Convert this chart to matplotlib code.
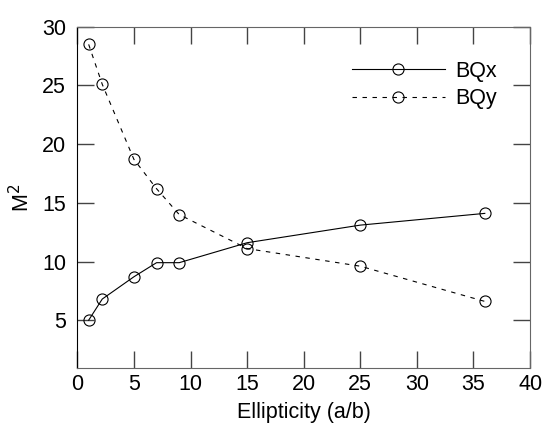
import matplotlib.pyplot as plt

plt.rcParams['font.family'] = ['Liberation Sans', 'DejaVu Sans']

# Dados
ellipticity = [1, 2.2, 5, 7, 9, 15, 25, 36]
bqx = [5.0, 6.8, 8.7, 9.9, 9.9, 11.6, 13.1, 14.1]
bqy = [28.5, 25.1, 18.7, 16.2, 14.0, 11.1, 9.6, 6.6]

fig = plt.figure(figsize=(5.42, 4.25), dpi=100)
ax = fig.add_axes([0.1427, 0.1334, 0.8353, 0.8036])

ax.plot(ellipticity, bqx, color='black', lw=0.8, marker='o', ms=8,
        mfc='none', mec='black', mew=0.8, label='BQx')
ax.plot(ellipticity, bqy, color='black', lw=0.8, dashes=(4, 5), marker='o', ms=8,
        mfc='none', mec='black', mew=0.8, label='BQy')

ax.set_xlim(0, 40)
ax.set_ylim(0.9, 30)
ax.set_xticks(range(0, 41, 5))
ax.set_yticks(range(5, 31, 5))
ax.tick_params(direction='in', length=12, width=1, colors='#444444', labelcolor='black',
               labelsize=15.5, top=True, right=True)
ax.tick_params(axis='y', pad=8)
ax.tick_params(axis='x', pad=4)

for s in ['top', 'right', 'bottom']:
    ax.spines[s].set_color('#666666')
ax.spines['left'].set_color('black')

ax.set_xlabel('Ellipticity (a/b)', fontsize=15.5, labelpad=5)
ax.set_ylabel('M$^2$', fontsize=15.5, labelpad=6)

ax.legend(loc='upper right', bbox_to_anchor=(0.946, 0.925), borderaxespad=0, frameon=False,
          fontsize=15.5, handlelength=4.3, handletextpad=0.5, labelspacing=0.3)

plt.savefig('out.png', dpi=100)
